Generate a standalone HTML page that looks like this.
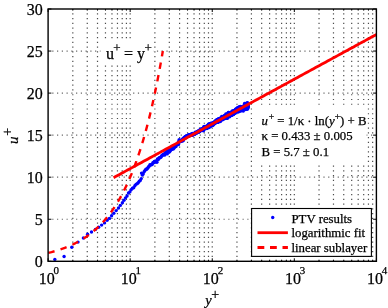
<!DOCTYPE html>
<html><head><meta charset="utf-8"><style>
html,body{margin:0;padding:0;background:#fff;}
svg{display:block;}
text{font-family:"Liberation Serif",serif;fill:#000;stroke:#000;stroke-width:0.25px;}
</style></head><body>
<svg width="388" height="308" viewBox="0 0 388 308">
<rect width="388" height="308" fill="#fff"/>
<g stroke="#000"><line x1="72.81" y1="9" x2="72.81" y2="261.3" stroke-width="1.2" stroke-opacity="0.7" stroke-dasharray="1.2 3.557" stroke-dashoffset="0.500"/><line x1="87.26" y1="9" x2="87.26" y2="261.3" stroke-width="1.2" stroke-opacity="0.7" stroke-dasharray="1.2 3.557" stroke-dashoffset="0.500"/><line x1="97.51" y1="9" x2="97.51" y2="261.3" stroke-width="1.2" stroke-opacity="0.7" stroke-dasharray="1.2 3.557" stroke-dashoffset="0.500"/><line x1="105.47" y1="9" x2="105.47" y2="261.3" stroke-width="1.2" stroke-opacity="0.7" stroke-dasharray="1.2 3.557" stroke-dashoffset="0.500"/><line x1="111.97" y1="9" x2="111.97" y2="261.3" stroke-width="1.2" stroke-opacity="0.7" stroke-dasharray="1.2 3.557" stroke-dashoffset="0.500"/><line x1="117.46" y1="9" x2="117.46" y2="261.3" stroke-width="1.2" stroke-opacity="0.7" stroke-dasharray="1.2 3.557" stroke-dashoffset="0.500"/><line x1="122.22" y1="9" x2="122.22" y2="261.3" stroke-width="1.2" stroke-opacity="0.7" stroke-dasharray="1.2 3.557" stroke-dashoffset="0.500"/><line x1="126.42" y1="9" x2="126.42" y2="261.3" stroke-width="1.2" stroke-opacity="0.7" stroke-dasharray="1.2 3.557" stroke-dashoffset="0.500"/><line x1="130.17" y1="9" x2="130.17" y2="261.3" stroke-width="1.2" stroke-opacity="0.7" stroke-dasharray="1.2 3.557" stroke-dashoffset="0.500"/><line x1="154.88" y1="9" x2="154.88" y2="261.3" stroke-width="1.2" stroke-opacity="0.7" stroke-dasharray="1.2 3.557" stroke-dashoffset="0.500"/><line x1="169.33" y1="9" x2="169.33" y2="261.3" stroke-width="1.2" stroke-opacity="0.7" stroke-dasharray="1.2 3.557" stroke-dashoffset="0.500"/><line x1="179.59" y1="9" x2="179.59" y2="261.3" stroke-width="1.2" stroke-opacity="0.7" stroke-dasharray="1.2 3.557" stroke-dashoffset="0.500"/><line x1="187.54" y1="9" x2="187.54" y2="261.3" stroke-width="1.2" stroke-opacity="0.7" stroke-dasharray="1.2 3.557" stroke-dashoffset="0.500"/><line x1="194.04" y1="9" x2="194.04" y2="261.3" stroke-width="1.2" stroke-opacity="0.7" stroke-dasharray="1.2 3.557" stroke-dashoffset="0.500"/><line x1="199.54" y1="9" x2="199.54" y2="261.3" stroke-width="1.2" stroke-opacity="0.7" stroke-dasharray="1.2 3.557" stroke-dashoffset="0.500"/><line x1="204.3" y1="9" x2="204.3" y2="261.3" stroke-width="1.2" stroke-opacity="0.7" stroke-dasharray="1.2 3.557" stroke-dashoffset="0.500"/><line x1="208.49" y1="9" x2="208.49" y2="261.3" stroke-width="1.2" stroke-opacity="0.7" stroke-dasharray="1.2 3.557" stroke-dashoffset="0.500"/><line x1="212.25" y1="9" x2="212.25" y2="261.3" stroke-width="1.2" stroke-opacity="0.7" stroke-dasharray="1.2 3.557" stroke-dashoffset="0.500"/><line x1="236.96" y1="9" x2="236.96" y2="261.3" stroke-width="1.2" stroke-opacity="0.7" stroke-dasharray="1.2 3.557" stroke-dashoffset="0.500"/><line x1="251.41" y1="9" x2="251.41" y2="261.3" stroke-width="1.2" stroke-opacity="0.7" stroke-dasharray="1.2 3.557" stroke-dashoffset="0.500"/><line x1="261.66" y1="9" x2="261.66" y2="261.3" stroke-width="1.2" stroke-opacity="0.7" stroke-dasharray="1.2 3.557" stroke-dashoffset="0.500"/><line x1="269.62" y1="9" x2="269.62" y2="261.3" stroke-width="1.2" stroke-opacity="0.7" stroke-dasharray="1.2 3.557" stroke-dashoffset="0.500"/><line x1="276.12" y1="9" x2="276.12" y2="261.3" stroke-width="1.2" stroke-opacity="0.7" stroke-dasharray="1.2 3.557" stroke-dashoffset="0.500"/><line x1="281.61" y1="9" x2="281.61" y2="261.3" stroke-width="1.2" stroke-opacity="0.7" stroke-dasharray="1.2 3.557" stroke-dashoffset="0.500"/><line x1="286.37" y1="9" x2="286.37" y2="261.3" stroke-width="1.2" stroke-opacity="0.7" stroke-dasharray="1.2 3.557" stroke-dashoffset="0.500"/><line x1="290.57" y1="9" x2="290.57" y2="261.3" stroke-width="1.2" stroke-opacity="0.7" stroke-dasharray="1.2 3.557" stroke-dashoffset="0.500"/><line x1="294.32" y1="9" x2="294.32" y2="261.3" stroke-width="1.2" stroke-opacity="0.7" stroke-dasharray="1.2 3.557" stroke-dashoffset="0.500"/><line x1="319.03" y1="9" x2="319.03" y2="261.3" stroke-width="1.2" stroke-opacity="0.7" stroke-dasharray="1.2 3.557" stroke-dashoffset="0.500"/><line x1="333.48" y1="9" x2="333.48" y2="261.3" stroke-width="1.2" stroke-opacity="0.7" stroke-dasharray="1.2 3.557" stroke-dashoffset="0.500"/><line x1="343.74" y1="9" x2="343.74" y2="261.3" stroke-width="1.2" stroke-opacity="0.7" stroke-dasharray="1.2 3.557" stroke-dashoffset="0.500"/><line x1="351.69" y1="9" x2="351.69" y2="261.3" stroke-width="1.2" stroke-opacity="0.7" stroke-dasharray="1.2 3.557" stroke-dashoffset="0.500"/><line x1="358.19" y1="9" x2="358.19" y2="261.3" stroke-width="1.2" stroke-opacity="0.7" stroke-dasharray="1.2 3.557" stroke-dashoffset="0.500"/><line x1="363.69" y1="9" x2="363.69" y2="261.3" stroke-width="1.2" stroke-opacity="0.7" stroke-dasharray="1.2 3.557" stroke-dashoffset="0.500"/><line x1="368.45" y1="9" x2="368.45" y2="261.3" stroke-width="1.2" stroke-opacity="0.7" stroke-dasharray="1.2 3.557" stroke-dashoffset="0.500"/><line x1="372.64" y1="9" x2="372.64" y2="261.3" stroke-width="1.2" stroke-opacity="0.7" stroke-dasharray="1.2 3.557" stroke-dashoffset="0.500"/><line x1="48.1" y1="219.25" x2="376.4" y2="219.25" stroke-width="1.2" stroke-opacity="0.6" stroke-dasharray="1.2 3.557" stroke-dashoffset="0.6"/><line x1="48.1" y1="177.2" x2="376.4" y2="177.2" stroke-width="1.2" stroke-opacity="0.6" stroke-dasharray="1.2 3.557" stroke-dashoffset="0.6"/><line x1="48.1" y1="135.15" x2="376.4" y2="135.15" stroke-width="1.2" stroke-opacity="0.6" stroke-dasharray="1.2 3.557" stroke-dashoffset="0.6"/><line x1="48.1" y1="93.1" x2="376.4" y2="93.1" stroke-width="1.2" stroke-opacity="0.6" stroke-dasharray="1.2 3.557" stroke-dashoffset="0.6"/><line x1="48.1" y1="51.05" x2="376.4" y2="51.05" stroke-width="1.2" stroke-opacity="0.6" stroke-dasharray="1.2 3.557" stroke-dashoffset="0.6"/></g>
<rect x="100.5" y="40" width="53" height="23.5" fill="#fff"/>
<rect x="256.5" y="106" width="110" height="57" fill="#fff"/>
<g fill="#00f"><circle cx="54.85" cy="259.4" r="1.7"/><circle cx="64.1" cy="256.5" r="1.7"/><circle cx="71.8" cy="247.2" r="1.7"/><circle cx="78" cy="242.1" r="1.7"/><circle cx="83.4" cy="238" r="1.7"/><circle cx="87.6" cy="234.2" r="1.7"/><circle cx="91.5" cy="232" r="1.7"/><circle cx="95.4" cy="229.4" r="1.7"/><circle cx="98.6" cy="227.2" r="1.7"/><circle cx="101.6" cy="225.1" r="1.7"/><circle cx="104.5" cy="222.9" r="1.7"/><circle cx="107.1" cy="220.3" r="1.7"/><circle cx="109.4" cy="218.4" r="1.7"/><circle cx="111.6" cy="215.8" r="1.7"/><circle cx="113.8" cy="213.2" r="1.7"/><circle cx="116.2" cy="210.6" r="1.7"/><circle cx="118.5" cy="208" r="1.7"/><circle cx="120.3" cy="205.4" r="1.7"/><circle cx="122.4" cy="202.8" r="1.7"/><circle cx="124" cy="200.2" r="1.7"/><circle cx="125.56" cy="197.84" r="1.7"/><circle cx="127.05" cy="195.95" r="1.7"/><circle cx="128.48" cy="193" r="1.7"/><circle cx="129.85" cy="191.91" r="1.7"/><circle cx="131.17" cy="189.72" r="1.7"/><circle cx="132.45" cy="188.17" r="1.7"/><circle cx="133.68" cy="187.75" r="1.7"/><circle cx="134.87" cy="185.72" r="1.7"/><circle cx="136.03" cy="184.37" r="1.7"/><circle cx="137.14" cy="183.64" r="1.7"/><circle cx="138.23" cy="182.78" r="1.7"/><circle cx="139.28" cy="181.21" r="1.7"/><circle cx="140.3" cy="180.39" r="1.7"/><circle cx="141.29" cy="178.58" r="1.7"/><circle cx="142.26" cy="174.99" r="1.7"/><circle cx="143.2" cy="173.96" r="1.7"/><circle cx="144.11" cy="171.77" r="1.7"/><circle cx="145" cy="170.43" r="1.7"/><circle cx="145.88" cy="169.3" r="1.7"/><circle cx="146.73" cy="169.21" r="1.7"/><circle cx="147.56" cy="168.17" r="1.7"/><circle cx="148.37" cy="166.98" r="1.7"/><circle cx="149.16" cy="166.21" r="1.7"/><circle cx="149.94" cy="164.66" r="1.7"/><circle cx="150.7" cy="164.99" r="1.7"/><circle cx="151.44" cy="164.65" r="1.7"/><circle cx="152.17" cy="164.45" r="1.7"/><circle cx="152.88" cy="162.78" r="1.7"/><circle cx="153.58" cy="162.8" r="1.7"/><circle cx="154.27" cy="161.49" r="1.7"/><circle cx="154.94" cy="162.37" r="1.7"/><circle cx="155.6" cy="161.01" r="1.7"/><circle cx="156.25" cy="161.37" r="1.7"/><circle cx="156.89" cy="162.36" r="1.7"/><circle cx="157.52" cy="158.9" r="1.7"/><circle cx="158.13" cy="159.86" r="1.7"/><circle cx="158.74" cy="158.63" r="1.7"/><circle cx="159.33" cy="157.67" r="1.7"/><circle cx="159.92" cy="157.69" r="1.7"/><circle cx="160.49" cy="157.23" r="1.7"/><circle cx="161.06" cy="157.1" r="1.7"/><circle cx="161.62" cy="155.91" r="1.7"/><circle cx="162.17" cy="155.36" r="1.7"/><circle cx="162.71" cy="155.06" r="1.7"/><circle cx="163.24" cy="154.5" r="1.7"/><circle cx="163.76" cy="154.86" r="1.7"/><circle cx="164.28" cy="154.05" r="1.7"/><circle cx="164.79" cy="155.05" r="1.7"/><circle cx="165.29" cy="152.7" r="1.7"/><circle cx="165.79" cy="152.88" r="1.7"/><circle cx="166.28" cy="152.63" r="1.7"/><circle cx="166.76" cy="151.47" r="1.7"/><circle cx="167.24" cy="153.91" r="1.7"/><circle cx="167.71" cy="150.54" r="1.7"/><circle cx="168.17" cy="151.67" r="1.7"/><circle cx="168.63" cy="151.15" r="1.7"/><circle cx="169.08" cy="152.32" r="1.7"/><circle cx="169.52" cy="149.42" r="1.7"/><circle cx="169.96" cy="151.22" r="1.7"/><circle cx="170.4" cy="149.61" r="1.7"/><circle cx="170.83" cy="149.68" r="1.7"/><circle cx="171.25" cy="148.97" r="1.7"/><circle cx="171.67" cy="149.55" r="1.7"/><circle cx="172.09" cy="147.97" r="1.7"/><circle cx="172.5" cy="148.37" r="1.7"/><circle cx="172.9" cy="148.33" r="1.7"/><circle cx="173.3" cy="149.02" r="1.7"/><circle cx="173.7" cy="145.71" r="1.7"/><circle cx="174.09" cy="148.11" r="1.7"/><circle cx="174.48" cy="147.36" r="1.7"/><circle cx="174.86" cy="146.01" r="1.7"/><circle cx="175.24" cy="146.22" r="1.7"/><circle cx="175.62" cy="145.33" r="1.7"/><circle cx="175.99" cy="146.46" r="1.7"/><circle cx="176.36" cy="145.12" r="1.7"/><circle cx="176.72" cy="144.49" r="1.7"/><circle cx="177.08" cy="144.15" r="1.7"/><circle cx="177.44" cy="143.84" r="1.7"/><circle cx="177.79" cy="143.53" r="1.7"/><circle cx="178.14" cy="142.7" r="1.7"/><circle cx="178.49" cy="144.43" r="1.7"/><circle cx="178.83" cy="141.32" r="1.7"/><circle cx="179.17" cy="139.8" r="1.7"/><circle cx="179.51" cy="141.9" r="1.7"/><circle cx="179.84" cy="141.56" r="1.7"/><circle cx="180.17" cy="141.66" r="1.7"/><circle cx="180.5" cy="141.02" r="1.7"/><circle cx="180.82" cy="140.82" r="1.7"/><circle cx="181.14" cy="140.91" r="1.7"/><circle cx="181.46" cy="141.1" r="1.7"/><circle cx="181.78" cy="139.89" r="1.7"/><circle cx="182.09" cy="139.7" r="1.7"/><circle cx="182.4" cy="141.04" r="1.7"/><circle cx="182.71" cy="139.83" r="1.7"/><circle cx="183.01" cy="138.56" r="1.7"/><circle cx="183.32" cy="140.56" r="1.7"/><circle cx="183.62" cy="139.27" r="1.7"/><circle cx="183.91" cy="138.12" r="1.7"/><circle cx="184.21" cy="137.51" r="1.7"/><circle cx="184.5" cy="138.28" r="1.7"/><circle cx="184.79" cy="137.31" r="1.7"/><circle cx="185.08" cy="136.95" r="1.7"/><circle cx="185.36" cy="136.58" r="1.7"/><circle cx="185.65" cy="136.89" r="1.7"/><circle cx="185.93" cy="137.74" r="1.7"/><circle cx="186.21" cy="136.5" r="1.7"/><circle cx="186.48" cy="135.62" r="1.7"/><circle cx="186.76" cy="136.79" r="1.7"/><circle cx="187.03" cy="136.18" r="1.7"/><circle cx="187.3" cy="136.47" r="1.7"/><circle cx="187.57" cy="136.49" r="1.7"/><circle cx="187.83" cy="135.47" r="1.7"/><circle cx="188.1" cy="135.45" r="1.7"/><circle cx="188.36" cy="135.48" r="1.7"/><circle cx="188.62" cy="134.74" r="1.7"/><circle cx="188.88" cy="135.86" r="1.7"/><circle cx="189.14" cy="136.27" r="1.7"/><circle cx="189.39" cy="135.47" r="1.7"/><circle cx="189.64" cy="135.17" r="1.7"/><circle cx="189.89" cy="135.11" r="1.7"/><circle cx="190.14" cy="134.75" r="1.7"/><circle cx="190.39" cy="134.69" r="1.7"/><circle cx="190.64" cy="134.91" r="1.7"/><circle cx="190.88" cy="134.6" r="1.7"/><circle cx="191.12" cy="134.82" r="1.7"/><circle cx="191.37" cy="134.06" r="1.7"/><circle cx="191.6" cy="135.23" r="1.7"/><circle cx="191.84" cy="135.01" r="1.7"/><circle cx="192.08" cy="134.19" r="1.7"/><circle cx="192.31" cy="133.36" r="1.7"/><circle cx="192.55" cy="134.66" r="1.7"/><circle cx="192.78" cy="135.23" r="1.7"/><circle cx="193.01" cy="133.97" r="1.7"/><circle cx="193.24" cy="134.01" r="1.7"/><circle cx="193.46" cy="133.83" r="1.7"/><circle cx="193.69" cy="134.46" r="1.7"/><circle cx="193.91" cy="133.38" r="1.7"/><circle cx="194.14" cy="134.42" r="1.7"/><circle cx="194.36" cy="133.51" r="1.7"/><circle cx="194.58" cy="134.14" r="1.7"/><circle cx="194.8" cy="133.47" r="1.7"/><circle cx="195.01" cy="133.19" r="1.7"/><circle cx="195.23" cy="132.32" r="1.7"/><circle cx="195.45" cy="132.68" r="1.7"/><circle cx="195.66" cy="132.81" r="1.7"/><circle cx="195.87" cy="133.24" r="1.7"/><circle cx="196.08" cy="132.88" r="1.7"/><circle cx="196.29" cy="132.2" r="1.7"/><circle cx="196.5" cy="132.77" r="1.7"/><circle cx="196.71" cy="133.02" r="1.7"/><circle cx="196.91" cy="132.2" r="1.7"/><circle cx="197.12" cy="131.91" r="1.7"/><circle cx="197.32" cy="131.83" r="1.7"/><circle cx="197.53" cy="132.49" r="1.7"/><circle cx="197.73" cy="132.21" r="1.7"/><circle cx="197.93" cy="131.15" r="1.7"/><circle cx="198.13" cy="131.89" r="1.7"/><circle cx="198.32" cy="131.22" r="1.7"/><circle cx="198.52" cy="130.93" r="1.7"/><circle cx="198.72" cy="132.15" r="1.7"/><circle cx="198.91" cy="131.76" r="1.7"/><circle cx="199.11" cy="130.61" r="1.7"/><circle cx="199.3" cy="131.05" r="1.7"/><circle cx="199.49" cy="131.23" r="1.7"/><circle cx="199.68" cy="130.33" r="1.7"/><circle cx="199.87" cy="130.58" r="1.7"/><circle cx="200.06" cy="131.03" r="1.7"/><circle cx="200.25" cy="129.2" r="1.7"/><circle cx="200.43" cy="130.6" r="1.7"/><circle cx="200.62" cy="130.8" r="1.7"/><circle cx="200.8" cy="130.54" r="1.7"/><circle cx="200.99" cy="129.1" r="1.7"/><circle cx="201.17" cy="130.21" r="1.7"/><circle cx="201.35" cy="129.25" r="1.7"/><circle cx="201.53" cy="130.21" r="1.7"/><circle cx="201.71" cy="130.14" r="1.7"/><circle cx="201.89" cy="129.75" r="1.7"/><circle cx="202.07" cy="128.92" r="1.7"/><circle cx="202.25" cy="128.95" r="1.7"/><circle cx="202.43" cy="129.95" r="1.7"/><circle cx="202.6" cy="128.52" r="1.7"/><circle cx="202.78" cy="129.49" r="1.7"/><circle cx="202.95" cy="129.41" r="1.7"/><circle cx="203.12" cy="128.7" r="1.7"/><circle cx="203.29" cy="130.69" r="1.7"/><circle cx="203.47" cy="128.77" r="1.7"/><circle cx="203.64" cy="130.32" r="1.7"/><circle cx="203.81" cy="126.92" r="1.7"/><circle cx="203.98" cy="126.64" r="1.7"/><circle cx="204.14" cy="129.13" r="1.7"/><circle cx="204.31" cy="128.77" r="1.7"/><circle cx="204.48" cy="127.91" r="1.7"/><circle cx="204.64" cy="128.04" r="1.7"/><circle cx="204.81" cy="126.43" r="1.7"/><circle cx="204.97" cy="127.39" r="1.7"/><circle cx="205.14" cy="126.96" r="1.7"/><circle cx="205.3" cy="127.55" r="1.7"/><circle cx="205.46" cy="128.39" r="1.7"/><circle cx="205.62" cy="127.6" r="1.7"/><circle cx="205.78" cy="127.79" r="1.7"/><circle cx="205.94" cy="126.79" r="1.7"/><circle cx="206.1" cy="126.93" r="1.7"/><circle cx="206.26" cy="127.31" r="1.7"/><circle cx="206.42" cy="126.88" r="1.7"/><circle cx="206.58" cy="128.13" r="1.7"/><circle cx="206.73" cy="126.19" r="1.7"/><circle cx="206.89" cy="128.51" r="1.7"/><circle cx="207.04" cy="125.92" r="1.7"/><circle cx="207.2" cy="127.62" r="1.7"/><circle cx="207.35" cy="125.92" r="1.7"/><circle cx="207.5" cy="127.98" r="1.7"/><circle cx="207.66" cy="126.55" r="1.7"/><circle cx="207.81" cy="126.7" r="1.7"/><circle cx="207.96" cy="126.92" r="1.7"/><circle cx="208.11" cy="125.61" r="1.7"/><circle cx="208.26" cy="125.16" r="1.7"/><circle cx="208.41" cy="124.19" r="1.7"/><circle cx="208.56" cy="127.05" r="1.7"/><circle cx="208.71" cy="125.24" r="1.7"/><circle cx="208.85" cy="125.25" r="1.7"/><circle cx="209" cy="125.68" r="1.7"/><circle cx="209.15" cy="127.44" r="1.7"/><circle cx="209.29" cy="123.98" r="1.7"/><circle cx="209.44" cy="125.71" r="1.7"/><circle cx="209.58" cy="125.04" r="1.7"/><circle cx="209.72" cy="125.81" r="1.7"/><circle cx="209.87" cy="123.6" r="1.7"/><circle cx="210.01" cy="124.8" r="1.7"/><circle cx="210.15" cy="125.86" r="1.7"/><circle cx="210.29" cy="126.45" r="1.7"/><circle cx="210.43" cy="126.41" r="1.7"/><circle cx="210.57" cy="124.07" r="1.7"/><circle cx="210.71" cy="124.83" r="1.7"/><circle cx="210.85" cy="124.6" r="1.7"/><circle cx="210.99" cy="123.35" r="1.7"/><circle cx="211.13" cy="123.21" r="1.7"/><circle cx="211.27" cy="125.18" r="1.7"/><circle cx="211.41" cy="124.62" r="1.7"/><circle cx="211.54" cy="124.18" r="1.7"/><circle cx="211.68" cy="125.38" r="1.7"/><circle cx="211.81" cy="123.22" r="1.7"/><circle cx="211.95" cy="124.58" r="1.7"/><circle cx="212.08" cy="124.02" r="1.7"/><circle cx="212.22" cy="123.89" r="1.7"/><circle cx="212.35" cy="124.33" r="1.7"/><circle cx="212.48" cy="123.97" r="1.7"/><circle cx="212.62" cy="123.99" r="1.7"/><circle cx="212.75" cy="123.92" r="1.7"/><circle cx="212.88" cy="125.43" r="1.7"/><circle cx="213.01" cy="123.23" r="1.7"/><circle cx="213.14" cy="124.42" r="1.7"/><circle cx="213.27" cy="123.97" r="1.7"/><circle cx="213.4" cy="122.99" r="1.7"/><circle cx="213.53" cy="124.01" r="1.7"/><circle cx="213.66" cy="122.36" r="1.7"/><circle cx="213.79" cy="124.22" r="1.7"/><circle cx="213.92" cy="122.27" r="1.7"/><circle cx="214.04" cy="122.5" r="1.7"/><circle cx="214.17" cy="123.21" r="1.7"/><circle cx="214.3" cy="123.63" r="1.7"/><circle cx="214.42" cy="123.64" r="1.7"/><circle cx="214.55" cy="123.55" r="1.7"/><circle cx="214.67" cy="122.43" r="1.7"/><circle cx="214.8" cy="121.63" r="1.7"/><circle cx="214.92" cy="123.02" r="1.7"/><circle cx="215.05" cy="122.71" r="1.7"/><circle cx="215.17" cy="121.43" r="1.7"/><circle cx="215.29" cy="123.22" r="1.7"/><circle cx="215.41" cy="122.4" r="1.7"/><circle cx="215.54" cy="121.21" r="1.7"/><circle cx="215.66" cy="122.5" r="1.7"/><circle cx="215.78" cy="120.71" r="1.7"/><circle cx="215.9" cy="121.08" r="1.7"/><circle cx="216.02" cy="122.26" r="1.7"/><circle cx="216.14" cy="120.28" r="1.7"/><circle cx="216.26" cy="121.78" r="1.7"/><circle cx="216.38" cy="120.35" r="1.7"/><circle cx="216.5" cy="122.34" r="1.7"/><circle cx="216.62" cy="120.84" r="1.7"/><circle cx="216.74" cy="121.67" r="1.7"/><circle cx="216.85" cy="119.95" r="1.7"/><circle cx="216.97" cy="121.03" r="1.7"/><circle cx="217.09" cy="122.24" r="1.7"/><circle cx="217.2" cy="121.7" r="1.7"/><circle cx="217.32" cy="119.36" r="1.7"/><circle cx="217.44" cy="122.04" r="1.7"/><circle cx="217.55" cy="121.94" r="1.7"/><circle cx="217.67" cy="120.62" r="1.7"/><circle cx="217.78" cy="122.34" r="1.7"/><circle cx="217.89" cy="119.82" r="1.7"/><circle cx="218.01" cy="120.73" r="1.7"/><circle cx="218.12" cy="121.86" r="1.7"/><circle cx="218.24" cy="122" r="1.7"/><circle cx="218.35" cy="121.9" r="1.7"/><circle cx="218.46" cy="119.47" r="1.7"/><circle cx="218.57" cy="118.72" r="1.7"/><circle cx="218.68" cy="120.83" r="1.7"/><circle cx="218.8" cy="118.94" r="1.7"/><circle cx="218.91" cy="120.18" r="1.7"/><circle cx="219.02" cy="118.96" r="1.7"/><circle cx="219.13" cy="121.26" r="1.7"/><circle cx="219.24" cy="120.94" r="1.7"/><circle cx="219.35" cy="120.63" r="1.7"/><circle cx="219.46" cy="120.02" r="1.7"/><circle cx="219.57" cy="119.99" r="1.7"/><circle cx="219.68" cy="119.58" r="1.7"/><circle cx="219.78" cy="120.21" r="1.7"/><circle cx="219.89" cy="120.01" r="1.7"/><circle cx="220" cy="120.16" r="1.7"/><circle cx="220.11" cy="119.2" r="1.7"/><circle cx="220.21" cy="121.52" r="1.7"/><circle cx="220.32" cy="119.82" r="1.7"/><circle cx="220.43" cy="120.9" r="1.7"/><circle cx="220.53" cy="120.78" r="1.7"/><circle cx="220.64" cy="118.47" r="1.7"/><circle cx="220.74" cy="117.58" r="1.7"/><circle cx="220.85" cy="120.54" r="1.7"/><circle cx="220.95" cy="118.8" r="1.7"/><circle cx="221.06" cy="119.23" r="1.7"/><circle cx="221.16" cy="118.82" r="1.7"/><circle cx="221.27" cy="119.17" r="1.7"/><circle cx="221.37" cy="117.75" r="1.7"/><circle cx="221.47" cy="118.81" r="1.7"/><circle cx="221.58" cy="118.39" r="1.7"/><circle cx="221.68" cy="118.79" r="1.7"/><circle cx="221.78" cy="116.34" r="1.7"/><circle cx="221.88" cy="119.55" r="1.7"/><circle cx="221.99" cy="118.99" r="1.7"/><circle cx="222.09" cy="116.8" r="1.7"/><circle cx="222.19" cy="117.77" r="1.7"/><circle cx="222.29" cy="118.51" r="1.7"/><circle cx="222.39" cy="119.08" r="1.7"/><circle cx="222.49" cy="118.37" r="1.7"/><circle cx="222.59" cy="119.75" r="1.7"/><circle cx="222.69" cy="118.28" r="1.7"/><circle cx="222.79" cy="117.16" r="1.7"/><circle cx="222.89" cy="117.44" r="1.7"/><circle cx="222.99" cy="118.87" r="1.7"/><circle cx="223.09" cy="117.39" r="1.7"/><circle cx="223.19" cy="118.86" r="1.7"/><circle cx="223.28" cy="118.99" r="1.7"/><circle cx="223.38" cy="118.49" r="1.7"/><circle cx="223.48" cy="118.88" r="1.7"/><circle cx="223.58" cy="117.58" r="1.7"/><circle cx="223.67" cy="117.69" r="1.7"/><circle cx="223.77" cy="117.02" r="1.7"/><circle cx="223.87" cy="116.95" r="1.7"/><circle cx="223.96" cy="115.89" r="1.7"/><circle cx="224.06" cy="116.9" r="1.7"/><circle cx="224.16" cy="116.3" r="1.7"/><circle cx="224.25" cy="115.88" r="1.7"/><circle cx="224.35" cy="117.49" r="1.7"/><circle cx="224.44" cy="117.77" r="1.7"/><circle cx="224.54" cy="116.87" r="1.7"/><circle cx="224.63" cy="118.64" r="1.7"/><circle cx="224.73" cy="118.14" r="1.7"/><circle cx="224.82" cy="118.2" r="1.7"/><circle cx="224.91" cy="116.4" r="1.7"/><circle cx="225.01" cy="115.4" r="1.7"/><circle cx="225.1" cy="117.53" r="1.7"/><circle cx="225.19" cy="117.22" r="1.7"/><circle cx="225.29" cy="117.62" r="1.7"/><circle cx="225.38" cy="117.24" r="1.7"/><circle cx="225.47" cy="118.09" r="1.7"/><circle cx="225.56" cy="116.38" r="1.7"/><circle cx="225.66" cy="117.36" r="1.7"/><circle cx="225.75" cy="115.63" r="1.7"/><circle cx="225.84" cy="114.07" r="1.7"/><circle cx="225.93" cy="116.02" r="1.7"/><circle cx="226.02" cy="118.06" r="1.7"/><circle cx="226.11" cy="114.59" r="1.7"/><circle cx="226.2" cy="117.44" r="1.7"/><circle cx="226.29" cy="115.56" r="1.7"/><circle cx="226.38" cy="115.82" r="1.7"/><circle cx="226.47" cy="116.24" r="1.7"/><circle cx="226.56" cy="116.38" r="1.7"/><circle cx="226.65" cy="115.05" r="1.7"/><circle cx="226.74" cy="116.19" r="1.7"/><circle cx="226.83" cy="116.48" r="1.7"/><circle cx="226.92" cy="116.85" r="1.7"/><circle cx="227.01" cy="115.08" r="1.7"/><circle cx="227.09" cy="117.53" r="1.7"/><circle cx="227.18" cy="117.87" r="1.7"/><circle cx="227.27" cy="118.38" r="1.7"/><circle cx="227.36" cy="114.24" r="1.7"/><circle cx="227.45" cy="115.84" r="1.7"/><circle cx="227.53" cy="113.58" r="1.7"/><circle cx="227.62" cy="115.97" r="1.7"/><circle cx="227.71" cy="116.11" r="1.7"/><circle cx="227.79" cy="114.2" r="1.7"/><circle cx="227.88" cy="113.67" r="1.7"/><circle cx="227.97" cy="115.56" r="1.7"/><circle cx="228.05" cy="116" r="1.7"/><circle cx="228.14" cy="114.4" r="1.7"/><circle cx="228.22" cy="114.93" r="1.7"/><circle cx="228.31" cy="112.41" r="1.7"/><circle cx="228.39" cy="114.36" r="1.7"/><circle cx="228.48" cy="115.25" r="1.7"/><circle cx="228.56" cy="115.21" r="1.7"/><circle cx="228.65" cy="116.74" r="1.7"/><circle cx="228.73" cy="113.7" r="1.7"/><circle cx="228.82" cy="112.43" r="1.7"/><circle cx="228.9" cy="115.37" r="1.7"/><circle cx="228.98" cy="114.17" r="1.7"/><circle cx="229.07" cy="115.09" r="1.7"/><circle cx="229.15" cy="115.53" r="1.7"/><circle cx="229.23" cy="115.35" r="1.7"/><circle cx="229.32" cy="116.24" r="1.7"/><circle cx="229.4" cy="116.1" r="1.7"/><circle cx="229.48" cy="112.72" r="1.7"/><circle cx="229.56" cy="114.44" r="1.7"/><circle cx="229.65" cy="116.68" r="1.7"/><circle cx="229.73" cy="113.97" r="1.7"/><circle cx="229.81" cy="115.45" r="1.7"/><circle cx="229.89" cy="114.27" r="1.7"/><circle cx="229.97" cy="113.83" r="1.7"/><circle cx="230.05" cy="116.01" r="1.7"/><circle cx="230.13" cy="115.36" r="1.7"/><circle cx="230.22" cy="113.89" r="1.7"/><circle cx="230.3" cy="115.12" r="1.7"/><circle cx="230.38" cy="112.61" r="1.7"/><circle cx="230.46" cy="113.22" r="1.7"/><circle cx="230.54" cy="114.99" r="1.7"/><circle cx="230.62" cy="113.98" r="1.7"/><circle cx="230.7" cy="112.71" r="1.7"/><circle cx="230.78" cy="114.35" r="1.7"/><circle cx="230.86" cy="114.17" r="1.7"/><circle cx="230.93" cy="115.2" r="1.7"/><circle cx="231.01" cy="114.79" r="1.7"/><circle cx="231.09" cy="113.36" r="1.7"/><circle cx="231.17" cy="113.09" r="1.7"/><circle cx="231.25" cy="113.43" r="1.7"/><circle cx="231.33" cy="113.28" r="1.7"/><circle cx="231.41" cy="115.13" r="1.7"/><circle cx="231.48" cy="115.23" r="1.7"/><circle cx="231.56" cy="114.93" r="1.7"/><circle cx="231.64" cy="113.79" r="1.7"/><circle cx="231.72" cy="113.04" r="1.7"/><circle cx="231.79" cy="114.29" r="1.7"/><circle cx="231.87" cy="112.84" r="1.7"/><circle cx="231.95" cy="113.45" r="1.7"/><circle cx="232.03" cy="111.27" r="1.7"/><circle cx="232.1" cy="112.63" r="1.7"/><circle cx="232.18" cy="114.69" r="1.7"/><circle cx="232.26" cy="111.87" r="1.7"/><circle cx="232.33" cy="111.3" r="1.7"/><circle cx="232.41" cy="112.76" r="1.7"/><circle cx="232.48" cy="114.79" r="1.7"/><circle cx="232.56" cy="114.51" r="1.7"/><circle cx="232.63" cy="112.42" r="1.7"/><circle cx="232.71" cy="112.25" r="1.7"/><circle cx="232.79" cy="112.62" r="1.7"/><circle cx="232.86" cy="111.65" r="1.7"/><circle cx="232.94" cy="112.71" r="1.7"/><circle cx="233.01" cy="112.29" r="1.7"/><circle cx="233.08" cy="110.92" r="1.7"/><circle cx="233.16" cy="111.89" r="1.7"/><circle cx="233.23" cy="112.22" r="1.7"/><circle cx="233.31" cy="111.49" r="1.7"/><circle cx="233.38" cy="111.16" r="1.7"/><circle cx="233.45" cy="113.42" r="1.7"/><circle cx="233.53" cy="114.51" r="1.7"/><circle cx="233.6" cy="111.99" r="1.7"/><circle cx="233.68" cy="111.79" r="1.7"/><circle cx="233.75" cy="112.81" r="1.7"/><circle cx="233.82" cy="111.93" r="1.7"/><circle cx="233.89" cy="111.26" r="1.7"/><circle cx="233.97" cy="113.7" r="1.7"/><circle cx="234.04" cy="110.89" r="1.7"/><circle cx="234.11" cy="111.2" r="1.7"/><circle cx="234.18" cy="111.24" r="1.7"/><circle cx="234.26" cy="110.95" r="1.7"/><circle cx="234.33" cy="111.65" r="1.7"/><circle cx="234.4" cy="112.54" r="1.7"/><circle cx="234.47" cy="113.49" r="1.7"/><circle cx="234.54" cy="112.56" r="1.7"/><circle cx="234.62" cy="111.8" r="1.7"/><circle cx="234.69" cy="110.29" r="1.7"/><circle cx="234.76" cy="111.61" r="1.7"/><circle cx="234.83" cy="110.56" r="1.7"/><circle cx="234.9" cy="111.49" r="1.7"/><circle cx="234.97" cy="112.69" r="1.7"/><circle cx="235.04" cy="111.76" r="1.7"/><circle cx="235.11" cy="111.24" r="1.7"/><circle cx="235.18" cy="110.58" r="1.7"/><circle cx="235.25" cy="111.38" r="1.7"/><circle cx="235.32" cy="111.49" r="1.7"/><circle cx="235.39" cy="110.26" r="1.7"/><circle cx="235.46" cy="110.7" r="1.7"/><circle cx="235.53" cy="112.26" r="1.7"/><circle cx="235.6" cy="109.29" r="1.7"/><circle cx="235.67" cy="110.66" r="1.7"/><circle cx="235.74" cy="109.78" r="1.7"/><circle cx="235.81" cy="112.87" r="1.7"/><circle cx="235.88" cy="111.75" r="1.7"/><circle cx="235.95" cy="111.6" r="1.7"/><circle cx="236.02" cy="111.43" r="1.7"/><circle cx="236.08" cy="111.27" r="1.7"/><circle cx="236.15" cy="111.25" r="1.7"/><circle cx="236.22" cy="109.05" r="1.7"/><circle cx="236.29" cy="111.15" r="1.7"/><circle cx="236.36" cy="111.51" r="1.7"/><circle cx="236.42" cy="109.14" r="1.7"/><circle cx="236.49" cy="111.72" r="1.7"/><circle cx="236.56" cy="111.51" r="1.7"/><circle cx="236.63" cy="108.93" r="1.7"/><circle cx="236.69" cy="110.12" r="1.7"/><circle cx="236.76" cy="110.28" r="1.7"/><circle cx="236.83" cy="110" r="1.7"/><circle cx="236.9" cy="111.04" r="1.7"/><circle cx="236.96" cy="109.07" r="1.7"/><circle cx="237.03" cy="110.26" r="1.7"/><circle cx="237.1" cy="110.75" r="1.7"/><circle cx="237.16" cy="111.31" r="1.7"/><circle cx="237.23" cy="110.49" r="1.7"/><circle cx="237.3" cy="110.12" r="1.7"/><circle cx="237.36" cy="111.18" r="1.7"/><circle cx="237.43" cy="108.02" r="1.7"/><circle cx="237.49" cy="111.4" r="1.7"/><circle cx="237.56" cy="109.92" r="1.7"/><circle cx="237.63" cy="108.79" r="1.7"/><circle cx="237.69" cy="109.72" r="1.7"/><circle cx="237.76" cy="108.05" r="1.7"/><circle cx="237.82" cy="107.77" r="1.7"/><circle cx="237.89" cy="109.75" r="1.7"/><circle cx="237.95" cy="109.19" r="1.7"/><circle cx="238.02" cy="110.93" r="1.7"/><circle cx="238.08" cy="109" r="1.7"/><circle cx="238.15" cy="108.49" r="1.7"/><circle cx="238.21" cy="108.86" r="1.7"/><circle cx="238.28" cy="111.97" r="1.7"/><circle cx="238.34" cy="109.95" r="1.7"/><circle cx="238.4" cy="109.17" r="1.7"/><circle cx="238.47" cy="108.7" r="1.7"/><circle cx="238.53" cy="108.54" r="1.7"/><circle cx="238.6" cy="109.61" r="1.7"/><circle cx="238.66" cy="110.28" r="1.7"/><circle cx="238.72" cy="111.1" r="1.7"/><circle cx="238.79" cy="111.06" r="1.7"/><circle cx="238.85" cy="110" r="1.7"/><circle cx="238.91" cy="108.88" r="1.7"/><circle cx="238.98" cy="108.61" r="1.7"/><circle cx="239.04" cy="106.87" r="1.7"/><circle cx="239.1" cy="108.36" r="1.7"/><circle cx="239.17" cy="110.03" r="1.7"/><circle cx="239.23" cy="109.1" r="1.7"/><circle cx="239.29" cy="109.91" r="1.7"/><circle cx="239.35" cy="107.85" r="1.7"/><circle cx="239.42" cy="110.47" r="1.7"/><circle cx="239.48" cy="109.73" r="1.7"/><circle cx="239.54" cy="109.4" r="1.7"/><circle cx="239.6" cy="109.8" r="1.7"/><circle cx="239.66" cy="106.65" r="1.7"/><circle cx="239.73" cy="108.6" r="1.7"/><circle cx="239.79" cy="108.17" r="1.7"/><circle cx="239.85" cy="111.35" r="1.7"/><circle cx="239.91" cy="108.96" r="1.7"/><circle cx="239.97" cy="108.55" r="1.7"/><circle cx="240.03" cy="110.13" r="1.7"/><circle cx="240.1" cy="107.84" r="1.7"/><circle cx="240.16" cy="110.75" r="1.7"/><circle cx="240.22" cy="108.2" r="1.7"/><circle cx="240.28" cy="108.94" r="1.7"/><circle cx="240.34" cy="107.89" r="1.7"/><circle cx="240.4" cy="109.92" r="1.7"/><circle cx="240.46" cy="106.34" r="1.7"/><circle cx="240.52" cy="109.72" r="1.7"/><circle cx="240.58" cy="107.9" r="1.7"/><circle cx="240.64" cy="108.91" r="1.7"/><circle cx="240.7" cy="107.45" r="1.7"/><circle cx="240.76" cy="109.07" r="1.7"/><circle cx="240.82" cy="108.99" r="1.7"/><circle cx="240.88" cy="109.45" r="1.7"/><circle cx="240.94" cy="109.09" r="1.7"/><circle cx="241" cy="109.43" r="1.7"/><circle cx="241.06" cy="109.85" r="1.7"/><circle cx="241.12" cy="108.17" r="1.7"/><circle cx="241.18" cy="107.2" r="1.7"/><circle cx="241.24" cy="107.05" r="1.7"/><circle cx="241.3" cy="109.37" r="1.7"/><circle cx="241.36" cy="108.08" r="1.7"/><circle cx="241.42" cy="109.76" r="1.7"/><circle cx="241.48" cy="108.53" r="1.7"/><circle cx="241.54" cy="107.23" r="1.7"/><circle cx="241.59" cy="109.51" r="1.7"/><circle cx="241.65" cy="110.72" r="1.7"/><circle cx="241.71" cy="108.15" r="1.7"/><circle cx="241.77" cy="107.21" r="1.7"/><circle cx="241.83" cy="107.3" r="1.7"/><circle cx="241.89" cy="109.36" r="1.7"/><circle cx="241.94" cy="107.55" r="1.7"/><circle cx="242" cy="107.74" r="1.7"/><circle cx="242.06" cy="109.05" r="1.7"/><circle cx="242.12" cy="108.19" r="1.7"/><circle cx="242.18" cy="108.3" r="1.7"/><circle cx="242.23" cy="107.45" r="1.7"/><circle cx="242.29" cy="107.3" r="1.7"/><circle cx="242.35" cy="108.28" r="1.7"/><circle cx="242.41" cy="108.24" r="1.7"/><circle cx="242.46" cy="108.77" r="1.7"/><circle cx="242.52" cy="107.35" r="1.7"/><circle cx="242.58" cy="108.41" r="1.7"/><circle cx="242.63" cy="108.55" r="1.7"/><circle cx="242.69" cy="108.02" r="1.7"/><circle cx="242.75" cy="108.63" r="1.7"/><circle cx="242.81" cy="109.18" r="1.7"/><circle cx="242.86" cy="108.09" r="1.7"/><circle cx="242.92" cy="107.91" r="1.7"/><circle cx="242.98" cy="106.49" r="1.7"/><circle cx="243.03" cy="108.19" r="1.7"/><circle cx="243.09" cy="107.6" r="1.7"/><circle cx="243.14" cy="107.28" r="1.7"/><circle cx="243.2" cy="106.56" r="1.7"/><circle cx="243.26" cy="108.42" r="1.7"/><circle cx="243.31" cy="111.1" r="1.7"/><circle cx="243.37" cy="108.18" r="1.7"/><circle cx="243.42" cy="107.68" r="1.7"/><circle cx="243.48" cy="108.14" r="1.7"/><circle cx="243.54" cy="106.69" r="1.7"/><circle cx="243.59" cy="107.62" r="1.7"/><circle cx="243.65" cy="106.53" r="1.7"/><circle cx="243.7" cy="106.53" r="1.7"/><circle cx="243.76" cy="107.73" r="1.7"/><circle cx="243.81" cy="107.7" r="1.7"/><circle cx="243.87" cy="107.19" r="1.7"/><circle cx="243.92" cy="106.19" r="1.7"/><circle cx="243.98" cy="107.67" r="1.7"/><circle cx="244.03" cy="105.71" r="1.7"/><circle cx="244.09" cy="108.36" r="1.7"/><circle cx="244.14" cy="106.72" r="1.7"/><circle cx="244.2" cy="107.2" r="1.7"/><circle cx="244.25" cy="108.32" r="1.7"/><circle cx="244.3" cy="107.97" r="1.7"/><circle cx="244.36" cy="105.22" r="1.7"/><circle cx="244.41" cy="106.74" r="1.7"/><circle cx="244.47" cy="107.62" r="1.7"/><circle cx="244.52" cy="105.43" r="1.7"/><circle cx="244.58" cy="103.43" r="1.7"/><circle cx="244.63" cy="106.9" r="1.7"/><circle cx="244.68" cy="106.91" r="1.7"/><circle cx="244.74" cy="107.61" r="1.7"/><circle cx="244.79" cy="107.06" r="1.7"/><circle cx="244.84" cy="107.11" r="1.7"/><circle cx="244.9" cy="107.25" r="1.7"/><circle cx="244.95" cy="108.98" r="1.7"/><circle cx="245" cy="107.59" r="1.7"/><circle cx="245.06" cy="107.66" r="1.7"/><circle cx="245.11" cy="106.18" r="1.7"/><circle cx="245.16" cy="108.52" r="1.7"/><circle cx="245.22" cy="106.45" r="1.7"/><circle cx="245.27" cy="107.88" r="1.7"/><circle cx="245.32" cy="103.38" r="1.7"/><circle cx="245.38" cy="107.06" r="1.7"/><circle cx="245.43" cy="106.49" r="1.7"/><circle cx="245.48" cy="105.89" r="1.7"/><circle cx="245.53" cy="108.66" r="1.7"/><circle cx="245.59" cy="107.23" r="1.7"/><circle cx="245.64" cy="106.33" r="1.7"/><circle cx="245.69" cy="105.68" r="1.7"/><circle cx="245.74" cy="109.55" r="1.7"/><circle cx="245.8" cy="107.7" r="1.7"/><circle cx="245.85" cy="107.53" r="1.7"/><circle cx="245.9" cy="105.19" r="1.7"/><circle cx="245.95" cy="108.55" r="1.7"/><circle cx="246" cy="107.31" r="1.7"/><circle cx="246.06" cy="105.92" r="1.7"/><circle cx="246.11" cy="106.16" r="1.7"/><circle cx="246.16" cy="103.61" r="1.7"/><circle cx="246.21" cy="107.38" r="1.7"/><circle cx="246.26" cy="104.44" r="1.7"/><circle cx="246.31" cy="107.66" r="1.7"/><circle cx="246.37" cy="105.48" r="1.7"/><circle cx="246.42" cy="105.14" r="1.7"/><circle cx="246.47" cy="106.8" r="1.7"/><circle cx="246.52" cy="106.51" r="1.7"/><circle cx="246.57" cy="104.2" r="1.7"/><circle cx="246.62" cy="105.97" r="1.7"/><circle cx="246.67" cy="107.12" r="1.7"/><circle cx="246.72" cy="105.62" r="1.7"/><circle cx="246.77" cy="103.71" r="1.7"/><circle cx="246.82" cy="105.58" r="1.7"/><circle cx="246.87" cy="104.31" r="1.7"/><circle cx="246.93" cy="104.95" r="1.7"/><circle cx="246.98" cy="106.01" r="1.7"/><circle cx="247.03" cy="105.81" r="1.7"/><circle cx="247.08" cy="105.51" r="1.7"/><circle cx="247.13" cy="102.94" r="1.7"/><circle cx="247.18" cy="106.45" r="1.7"/><circle cx="247.23" cy="105.46" r="1.7"/><circle cx="247.28" cy="105.06" r="1.7"/><circle cx="247.33" cy="106.04" r="1.7"/><circle cx="247.38" cy="109.19" r="1.7"/><circle cx="247.43" cy="103.4" r="1.7"/><circle cx="247.48" cy="102.8" r="1.7"/><circle cx="247.53" cy="107.04" r="1.7"/><circle cx="247.58" cy="104.22" r="1.7"/><circle cx="247.63" cy="107.98" r="1.7"/><circle cx="247.68" cy="103.81" r="1.7"/><circle cx="247.72" cy="104.69" r="1.7"/><circle cx="247.77" cy="107.08" r="1.7"/><circle cx="247.82" cy="107.2" r="1.7"/><circle cx="247.87" cy="106.32" r="1.7"/><circle cx="247.92" cy="106.32" r="1.7"/><circle cx="247.97" cy="105.21" r="1.7"/><circle cx="248.02" cy="104.61" r="1.7"/><circle cx="248.07" cy="105.03" r="1.7"/><circle cx="248.12" cy="107.76" r="1.7"/><circle cx="248.17" cy="106.69" r="1.7"/><circle cx="141.5" cy="173.1" r="1.7"/></g>
<polyline fill="none" stroke="#f00" stroke-width="2.8" points="113.6,177.67 115.6,176.58 117.6,175.49 119.6,174.4 121.6,173.31 123.6,172.22 125.6,171.13 127.6,170.04 129.6,168.95 131.6,167.86 133.6,166.77 135.6,165.68 137.6,164.59 139.6,163.51 141.6,162.42 143.6,161.33 145.6,160.24 147.6,159.15 149.6,158.06 151.6,156.97 153.6,155.88 155.6,154.79 157.6,153.7 159.6,152.61 161.6,151.52 163.6,150.43 165.6,149.34 167.6,148.25 169.6,147.16 171.6,146.07 173.6,144.98 175.6,143.89 177.6,142.8 179.6,141.71 181.6,140.62 183.6,139.53 185.6,138.44 187.6,137.35 189.6,136.26 191.6,135.17 193.6,134.08 195.6,132.99 197.6,131.9 199.6,130.81 201.6,129.72 203.6,128.63 205.6,127.54 207.6,126.45 209.6,125.36 211.6,124.27 213.6,123.18 215.6,122.09 217.6,121 219.6,119.91 221.6,118.82 223.6,117.73 225.6,116.64 227.6,115.55 229.6,114.46 231.6,113.37 233.6,112.28 235.6,111.2 237.6,110.11 239.6,109.02 241.6,107.93 243.6,106.84 245.6,105.75 247.6,104.66 249.6,103.57 251.6,102.48 253.6,101.39 255.6,100.3 257.6,99.21 259.6,98.12 261.6,97.03 263.6,95.94 265.6,94.85 267.6,93.76 269.6,92.67 271.6,91.58 273.6,90.49 275.6,89.4 277.6,88.31 279.6,87.22 281.6,86.13 283.6,85.04 285.6,83.95 287.6,82.86 289.6,81.77 291.6,80.68 293.6,79.59 295.6,78.5 297.6,77.41 299.6,76.32 301.6,75.23 303.6,74.14 305.6,73.05 307.6,71.96 309.6,70.87 311.6,69.78 313.6,68.69 315.6,67.6 317.6,66.51 319.6,65.42 321.6,64.33 323.6,63.24 325.6,62.15 327.6,61.06 329.6,59.98 331.6,58.89 333.6,57.8 335.6,56.71 337.6,55.62 339.6,54.53 341.6,53.44 343.6,52.35 345.6,51.26 347.6,50.17 349.6,49.08 351.6,47.99 353.6,46.9 355.6,45.81 357.6,44.72 359.6,43.63 361.6,42.54 363.6,41.45 365.6,40.36 367.6,39.27 369.6,38.18 371.6,37.09 373.6,36 375.6,34.91 376.4,34.47"/>
<polyline fill="none" stroke="#f00" stroke-width="2.4" stroke-dasharray="6.45 6.27" stroke-dashoffset="12.52" points="48.1,252.89 51.5,252.05 54.6,251.21 57.45,250.37 60.09,249.53 62.55,248.69 64.85,247.84 67.01,247 69.05,246.16 70.98,245.32 72.81,244.48 74.55,243.64 76.2,242.8 77.79,241.96 79.31,241.12 80.76,240.28 82.16,239.43 83.5,238.59 84.8,237.75 86.05,236.91 87.26,236.07 88.43,235.23 89.56,234.39 90.66,233.55 91.72,232.71 92.75,231.86 93.76,231.02 94.74,230.18 95.69,229.34 96.61,228.5 97.51,227.66 98.39,226.82 99.25,225.98 100.09,225.14 100.91,224.3 101.71,223.46 102.5,222.61 103.26,221.77 104.01,220.93 104.75,220.09 105.47,219.25 106.17,218.41 106.87,217.57 107.54,216.73 108.21,215.89 108.87,215.05 109.51,214.2 110.14,213.36 110.76,212.52 111.37,211.68 111.97,210.84 112.56,210 113.14,209.16 113.71,208.32 114.27,207.48 114.82,206.64 115.36,205.79 115.9,204.95 116.43,204.11 116.95,203.27 117.46,202.43 117.97,201.59 118.47,200.75 118.96,199.91 119.44,199.07 119.92,198.23 120.39,197.38 120.86,196.54 121.32,195.7 121.77,194.86 122.22,194.02 122.66,193.18 123.1,192.34 123.53,191.5 123.96,190.66 124.38,189.82 124.8,188.97 125.21,188.13 125.62,187.29 126.02,186.45 126.42,185.61 126.81,184.77 127.2,183.93 127.59,183.09 127.97,182.25 128.35,181.41 128.72,180.56 129.09,179.72 129.45,178.88 129.82,178.04 130.17,177.2 130.53,176.36 130.88,175.52 131.23,174.68 131.57,173.84 131.91,173 132.25,172.15 132.59,171.31 132.92,170.47 133.25,169.63 133.57,168.79 133.89,167.95 134.21,167.11 134.53,166.27 134.85,165.43 135.16,164.59 135.47,163.74 135.77,162.9 136.07,162.06 136.38,161.22 136.67,160.38 136.97,159.54 137.26,158.7 137.55,157.86 137.84,157.02 138.13,156.18 138.41,155.33 138.69,154.49 138.97,153.65 139.25,152.81 139.53,151.97 139.8,151.13 140.07,150.29 140.34,149.45 140.61,148.61 140.87,147.77 141.14,146.92 141.4,146.08 141.66,145.24 141.91,144.4 142.17,143.56 142.42,142.72 142.67,141.88 142.92,141.04 143.17,140.2 143.42,139.36 143.66,138.51 143.91,137.67 144.15,136.83 144.39,135.99 144.63,135.15 144.86,134.31 145.1,133.47 145.33,132.63 145.57,131.79 145.8,130.95 146.03,130.1 146.25,129.26 146.48,128.42 146.7,127.58 146.93,126.74 147.15,125.9 147.37,125.06 147.59,124.22 147.81,123.38 148.02,122.54 148.24,121.69 148.45,120.85 148.67,120.01 148.88,119.17 149.09,118.33 149.3,117.49 149.51,116.65 149.71,115.81 149.92,114.97 150.12,114.13 150.33,113.28 150.53,112.44 150.73,111.6 150.93,110.76 151.13,109.92 151.32,109.08 151.52,108.24 151.72,107.4 151.91,106.56 152.1,105.72 152.3,104.87 152.49,104.03 152.68,103.19 152.87,102.35 153.05,101.51 153.24,100.67 153.43,99.83 153.61,98.99 153.8,98.15 153.98,97.3 154.16,96.46 154.34,95.62 154.52,94.78 154.7,93.94 154.88,93.1 155.06,92.26 155.24,91.42 155.41,90.58 155.59,89.74 155.76,88.89 155.94,88.05 156.11,87.21 156.28,86.37 156.45,85.53 156.62,84.69 156.79,83.85 156.96,83.01 157.13,82.17 157.29,81.33 157.46,80.48 157.63,79.64 157.79,78.8 157.95,77.96 158.12,77.12 158.28,76.28 158.44,75.44 158.6,74.6 158.76,73.76 158.92,72.92 159.08,72.07 159.24,71.23 159.4,70.39 159.55,69.55 159.71,68.71 159.86,67.87 160.02,67.03 160.17,66.19 160.33,65.35 160.48,64.51 160.63,63.66 160.78,62.82 160.93,61.98 161.08,61.14 161.23,60.3 161.38,59.46 161.53,58.62 161.68,57.78 161.82,56.94 161.97,56.1 162.12,55.25 162.26,54.41 162.41,53.57 162.55,52.73 162.69,51.89 162.84,51.05"/>
<rect x="48.1" y="9" width="328.3" height="252.3" fill="none" stroke="#000" stroke-width="1.4"/>
<path fill="none" stroke="#000" stroke-width="1" d="M48.1 261.3v-3.0M48.1 9v3.0M72.81 261.3v-1.6M72.81 9v1.6M87.26 261.3v-1.6M87.26 9v1.6M97.51 261.3v-1.6M97.51 9v1.6M105.47 261.3v-1.6M105.47 9v1.6M111.97 261.3v-1.6M111.97 9v1.6M117.46 261.3v-1.6M117.46 9v1.6M122.22 261.3v-1.6M122.22 9v1.6M126.42 261.3v-1.6M126.42 9v1.6M130.17 261.3v-3.0M130.17 9v3.0M154.88 261.3v-1.6M154.88 9v1.6M169.33 261.3v-1.6M169.33 9v1.6M179.59 261.3v-1.6M179.59 9v1.6M187.54 261.3v-1.6M187.54 9v1.6M194.04 261.3v-1.6M194.04 9v1.6M199.54 261.3v-1.6M199.54 9v1.6M204.3 261.3v-1.6M204.3 9v1.6M208.49 261.3v-1.6M208.49 9v1.6M212.25 261.3v-3.0M212.25 9v3.0M236.96 261.3v-1.6M236.96 9v1.6M251.41 261.3v-1.6M251.41 9v1.6M261.66 261.3v-1.6M261.66 9v1.6M269.62 261.3v-1.6M269.62 9v1.6M276.12 261.3v-1.6M276.12 9v1.6M281.61 261.3v-1.6M281.61 9v1.6M286.37 261.3v-1.6M286.37 9v1.6M290.57 261.3v-1.6M290.57 9v1.6M294.32 261.3v-3.0M294.32 9v3.0M319.03 261.3v-1.6M319.03 9v1.6M333.48 261.3v-1.6M333.48 9v1.6M343.74 261.3v-1.6M343.74 9v1.6M351.69 261.3v-1.6M351.69 9v1.6M358.19 261.3v-1.6M358.19 9v1.6M363.69 261.3v-1.6M363.69 9v1.6M368.45 261.3v-1.6M368.45 9v1.6M372.64 261.3v-1.6M372.64 9v1.6M376.4 261.3v-3.0M376.4 9v3.0M48.1 261.3h3.3M376.4 261.3h-3.3M48.1 219.25h3.3M376.4 219.25h-3.3M48.1 177.2h3.3M376.4 177.2h-3.3M48.1 135.15h3.3M376.4 135.15h-3.3M48.1 93.1h3.3M376.4 93.1h-3.3M48.1 51.05h3.3M376.4 51.05h-3.3M48.1 9h3.3M376.4 9h-3.3"/>
<rect x="251.6" y="208.5" width="119.8" height="47.9" fill="#fff" stroke="#000" stroke-width="1.1"/>
<circle cx="272.7" cy="217.5" r="1.7" fill="#00f"/>
<line x1="257.5" y1="232.7" x2="287.9" y2="232.7" stroke="#f00" stroke-width="2.8"/>
<line x1="257.5" y1="247.5" x2="287.9" y2="247.5" stroke="#f00" stroke-width="2.8" stroke-dasharray="6.8 5.7"/>
<g style="will-change:transform"><text x="42.8" y="267.2" font-size="16" text-anchor="end" >0</text><text x="42.8" y="225.15" font-size="16" text-anchor="end" >5</text><text x="42.8" y="183.1" font-size="16" text-anchor="end" >10</text><text x="42.8" y="141.05" font-size="16" text-anchor="end" >15</text><text x="42.8" y="99" font-size="16" text-anchor="end" >20</text><text x="42.8" y="56.95" font-size="16" text-anchor="end" >25</text><text x="42.8" y="14.9" font-size="16" text-anchor="end" >30</text><text x="38.7" y="283.6" font-size="16">10</text><text x="53.5" y="273.7" font-size="11">0</text><text x="120.77" y="283.6" font-size="16">10</text><text x="135.57" y="273.7" font-size="11">1</text><text x="202.85" y="283.6" font-size="16">10</text><text x="217.65" y="273.7" font-size="11">2</text><text x="284.93" y="283.6" font-size="16">10</text><text x="299.72" y="273.7" font-size="11">3</text><text x="367" y="283.6" font-size="16">10</text><text x="381.8" y="273.7" font-size="11">4</text><text x="205.2" y="304.6" font-size="14.5" font-style="italic">y</text><text x="211.2" y="298.5" font-size="14">+</text><g transform="translate(17.6,144.1) rotate(-90)"><text x="0" y="0" font-size="15" font-style="italic">u</text><text x="8.3" y="-5.45" font-size="14">+</text></g><text x="106.1" y="58.9" font-size="16">u</text><text x="113.3" y="52.4" font-size="13">+</text><text x="123.9" y="58.9" font-size="16">=</text><text x="136.9" y="58.9" font-size="16">y</text><text x="144.4" y="52.4" font-size="13">+</text><text x="261.5" y="124.6" font-size="12.8"><tspan font-style="italic">u</tspan><tspan font-size="9.5" dx="0.8" dy="-4.7">+</tspan><tspan dy="4.7"> = 1/κ · ln(</tspan><tspan font-style="italic">y</tspan><tspan font-size="9.5" dy="-4.7">+</tspan><tspan dy="4.7">) + B</tspan></text><text x="261.5" y="139.8" font-size="12.8">κ = 0.433 ± 0.005</text><text x="261.5" y="156.3" font-size="12.8">B = 5.7 ± 0.1</text><text x="291.5" y="222.5" font-size="12.8">PTV results</text><text x="291.5" y="237.2" font-size="12.8">logarithmic fit</text><text x="291.5" y="251.8" font-size="12.8">linear sublayer</text></g>
</svg>
</body></html>
